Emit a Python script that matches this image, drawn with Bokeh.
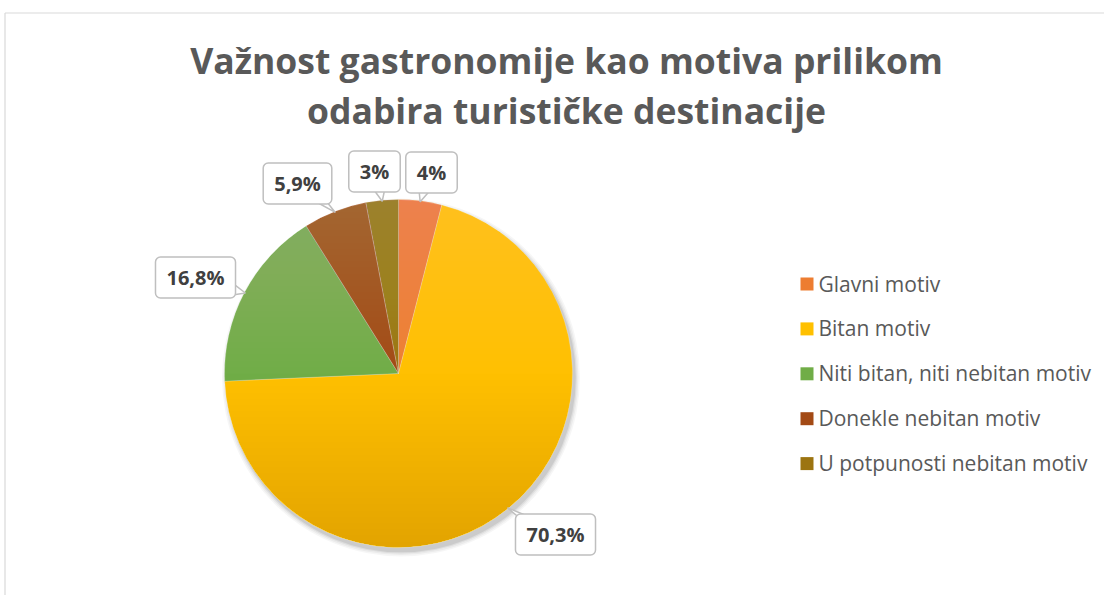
import numpy as np
from bokeh.plotting import figure
from bokeh.models import Range1d, ColumnDataSource
from bokeh.core.properties import value
from bokeh.embed import file_html
from bokeh.resources import INLINE

# ---------------- data ----------------
title_lines = ["Važnost gastronomije kao motiva prilikom", "odabira turističke destinacije"]
categories = ["Glavni motiv", "Bitan motiv", "Niti bitan, niti nebitan motiv",
              "Donekle nebitan motiv", "U potpunosti nebitan motiv"]
percentages = [4.0, 70.3, 16.8, 5.9, 3.0]
label_texts = ["4%", "70,3%", "16,8%", "5,9%", "3%"]
colors = ["#ED7D31", "#FFC000", "#70AD47", "#A34A15", "#9C7410"]

# ---------------- layout (image pixel coords; y measured downward) ----------------
W, H = 1104, 595
def Y(img_y):
    return 597 - img_y

CX, CY, R = 398.0, Y(373), 174.0
label_centers = [(431, 172), (555, 534), (195, 277), (297, 183), (374, 171)]
legend_x, legend_y0, legend_dy = 806.5, 283.5, 44.9
FONT = "Open Sans"
GRAY = "#595959"

p = figure(width=W, height=H, x_range=Range1d(0, W), y_range=Range1d(597 - H, 597),
           output_backend="svg", toolbar_location=None, min_border=0,
           x_axis_type=None, y_axis_type=None)
p.grid.visible = False
p.outline_line_color = None
p.background_fill_color = "white"
p.border_fill_color = "white"

# chart area border (top/left)
p.line(x=[4.5, W], y=[Y(12.5), Y(12.5)], line_color="#D9D9D9", line_width=1.2)
p.line(x=[4.5, 4.5], y=[Y(12.5), 597 - H], line_color="#D9D9D9", line_width=1.2)

# ---------------- pie ----------------
vals = np.array(percentages)
cum = np.concatenate([[0.0], np.cumsum(vals)]) / vals.sum()
start = np.pi / 2 - 2 * np.pi * cum[:-1]
end = np.pi / 2 - 2 * np.pi * cum[1:]
mid = (start + end) / 2

# soft shadow
for dr, a in [(5, 0.035), (3.5, 0.045), (2, 0.06), (0.8, 0.08)]:
    p.circle(x=[CX + 2.5], y=[CY - 4], radius=R + dr, fill_color="black",
             fill_alpha=a, line_color=None)

src = ColumnDataSource(dict(cat=categories, val=percentages, start=start, end=end, color=colors))
p.wedge(x=CX, y=CY, radius=R, start_angle="start", end_angle="end", direction="clock",
        fill_color="color", line_color="white", line_alpha=0.35, line_width=0.6, source=src)

# vertical gradient overlay (light at top, darker at bottom)
def cap(yk, top=True, n=90):
    th = np.arcsin(np.clip((yk - CY) / R, -1, 1))
    if top:
        a = np.linspace(th, np.pi - th, n)
    else:
        a = np.linspace(np.pi - th, 2 * np.pi + th, n)
    return list(CX + R * np.cos(a)), list(CY + R * np.sin(a))

steps = 28
tx, ty, bx, by = [], [], [], []
for k in range(steps):
    yk = CY + R * (k / steps)
    xs, ys = cap(yk, True)
    tx.append(xs); ty.append(ys)
    yk2 = CY - R * (k / steps)
    xs, ys = cap(yk2, False)
    bx.append(xs); by.append(ys)
p.patches(xs=tx, ys=ty, fill_color="white", fill_alpha=0.008, line_color=None)
p.patches(xs=bx, ys=by, fill_color="black", fill_alpha=0.0042, line_color=None)

# ---------------- data label callouts ----------------
def text_width(t, size=20):
    w = {"%": 0.9, ",": 0.29}
    return sum(w.get(c, 0.572) for c in t) * size

lx = [c[0] for c in label_centers]
ly = [Y(c[1]) for c in label_centers]
tail_xs, tail_ys = [], []
for (cx_, cy_img), t, m in zip(label_centers, label_texts, mid):
    cy_ = Y(cy_img)
    tipx, tipy = CX + (R - 1) * np.cos(m), CY + (R - 1) * np.sin(m)
    hw = text_width(t) / 2 + 11 - 3
    hh = 20 - 3
    dx, dy = tipx - cx_, tipy - cy_
    sx = hw / abs(dx) if dx else 1e9
    sy = hh / abs(dy) if dy else 1e9
    s = min(sx, sy)
    bxp, byp = cx_ + s * dx, cy_ + s * dy
    if sy <= sx:
        b1, b2 = (bxp - 6, byp), (bxp + 6, byp)
    else:
        b1, b2 = (bxp, byp - 6), (bxp, byp + 6)
    tail_xs.append([b1[0], tipx, b2[0]])
    tail_ys.append([b1[1], tipy, b2[1]])

p.patches(xs=tail_xs, ys=tail_ys, fill_color="white", line_color="#BFBFBF", line_width=1.5)
p.text(x=lx, y=ly, text=label_texts, text_align="center", text_baseline="middle",
       text_font=value(FONT), text_font_style="bold", text_font_size="20px",
       text_color="#404040", background_fill_color="white",
       border_line_color="#BFBFBF", border_line_width=1.5, padding=(11, 7),
       border_radius=5)

# ---------------- title ----------------
p.text(x=[566, 566], y=[Y(59), Y(109)], text=title_lines, text_align="center",
       text_baseline="middle", text_font=value(FONT), text_font_style="bold",
       text_font_size="35.5px", text_color=GRAY)

# ---------------- legend ----------------
ly_img = [legend_y0 + i * legend_dy for i in range(len(categories))]
p.scatter(x=[legend_x] * len(categories), y=[Y(v) for v in ly_img], marker="square",
          size=13, fill_color=colors, line_color=None)
p.text(x=[818] * len(categories), y=[Y(v - 0.5) for v in ly_img], text=categories,
       text_align="left", text_baseline="middle", text_font=value(FONT),
       text_font_size="21px", text_color=GRAY)

open("out.html", "w").write(file_html(p, INLINE))
